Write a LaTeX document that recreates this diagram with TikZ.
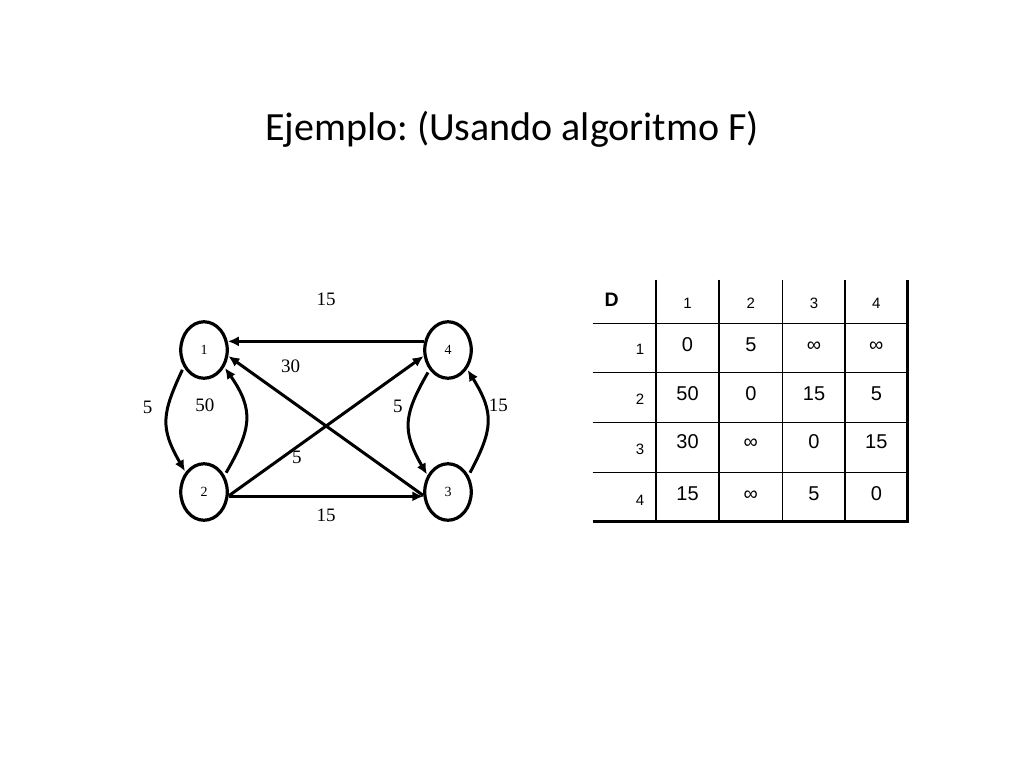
\documentclass[tikz,border=0pt]{standalone}
\usepackage{fontspec}
\setmainfont{Liberation Serif}
\newfontfamily\titlefont{Carlito}
\newfontfamily\tablefont{Liberation Sans}
\usetikzlibrary{positioning, arrows.meta, shapes.geometric}
\frenchspacing

\begin{document}
\begin{tikzpicture}[x=1pt, y=-1pt, >={Latex[length=11pt, width=10pt]}, on grid,
        vertice/.style={draw, ellipse, line width=3.2pt, minimum width=46.5pt, minimum height=56.5pt, inner sep=0pt, font=\fontsize{14}{14}\selectfont},
        peso/.style={font=\fontsize{19}{19}\selectfont, inner sep=2pt},
        arista/.style={->, line width=3pt},
        curva/.style={arista, looseness=1.25, shorten <=3pt, shorten >=1pt},
        raya/.style={line width=1.3pt},
        borde/.style={line width=3.6pt, line join=miter},
        cabeza/.style={font=\tablefont\fontsize{15}{15}\selectfont, inner sep=0pt},
        valor/.style={font=\tablefont\fontsize{20}{20}\selectfont, inner sep=0pt, anchor=base}]
    \path[use as bounding box, fill=white] (0,0) rectangle (1024,768);

    \node[font=\titlefont\fontsize{40}{40}\selectfont, anchor=base] (titulo) at (512,140) {Ejemplo: (Usando algoritmo F)};

    % grafo
    \node[vertice] (n1) at (204,350) {1};
    \node[vertice] (n4) [right=244pt of n1] {4};
    \node[vertice] (n2) [below=142pt of n1] {2};
    \node[vertice] (n3) [right=244pt of n2] {3};

    \path[arista]
    (n4.160) edge node[peso, above=32pt] {15} (n1.20)
    (n3.188) edge node[peso, pos=0.68, above=24pt] {30} (n1.-14)
    (n2.-9) edge node[peso, pos=0.35, below=1pt] {5} (n4.194)
    (n2.-10) edge node[peso, below=9pt] {15} (n3.190)
    ;
    \path[curva]
    (n1.220) edge [out=245, in=120] node[peso, left=11pt, yshift=13pt] {5} (n2.133)
    (n2.39) edge [out=60, in=-55] node[peso, left=28pt, yshift=15pt] {50} (n1.-40)
    (n4.227) edge [out=240, in=120] node[peso, left=3pt, yshift=16pt] {5} (n3.141)
    (n3.39) edge [out=62, in=-58] node[peso, right=-2pt, yshift=16pt] {15} (n4.-45)
    ;

    % tabla D
    \foreach \x in {656,719,782.5,845}
        \draw[raya] (\x,279.5) -- (\x,521.5);
    \foreach \y in {323.7,372.5,422.7,472.7}
        \draw[raya] (592.5,\y) -- (907.5,\y);
    \draw[borde] (592.5,521.5) -- (907.5,521.5) -- (907.5,279.5);

    \node[font=\tablefont\bfseries\fontsize{19.5}{19.5}\selectfont, inner sep=0pt, anchor=base] (D) at (611.7,306.7) {D};
    \foreach \c/\x in {1/687.5,2/750.8,3/814,4/876.3}
        \node[cabeza, anchor=base] (col\c) at (\x,308.1) {\c};
    \foreach \r/\y in {1/354.7,2/404.7,3/454.4,4/505.4}
        \node[cabeza, anchor=base east] (fila\r) at (644.5,\y) {\r};

    \foreach \r/\y/\a/\b/\c/\d in {1/351.7/0/5/∞/∞, 2/400.5/50/0/15/5, 3/448.9/30/∞/0/15, 4/500.5/15/∞/5/0}{
        \node[valor] (d\r1) at (687.5,\y) {\a};
        \node[valor] (d\r2) at (750.8,\y) {\b};
        \node[valor] (d\r3) at (814,\y) {\c};
        \node[valor] (d\r4) at (876.3,\y) {\d};
    }
\end{tikzpicture}
\end{document}
